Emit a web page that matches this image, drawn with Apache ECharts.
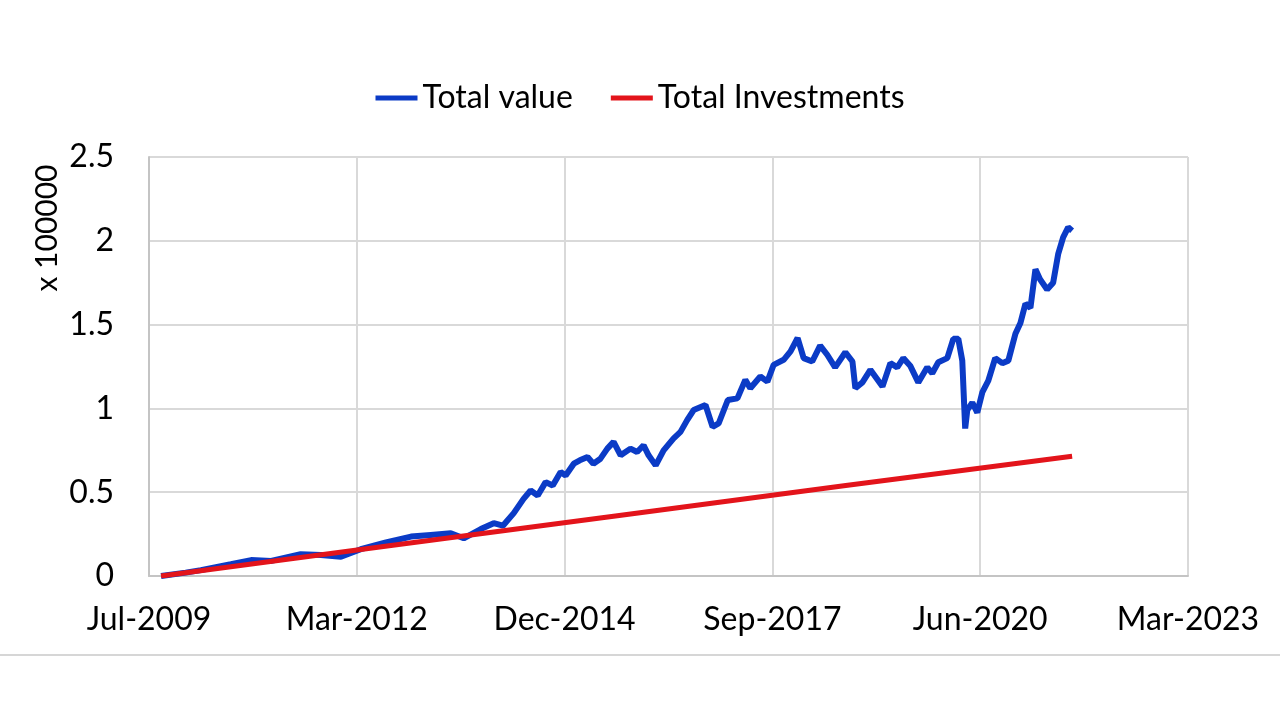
<!doctype html>
<html>
<head>
    <meta charset="utf-8">
    <title>Total value vs Total Investments</title>
    <style>
        html, body { margin: 0; padding: 0; background: #fff; }
        #main { width: 1280px; height: 720px; }
    </style>
</head>
<body>
    <div id="main"></div>
    <script src="https://cdn.jsdelivr.net/npm/echarts@6/dist/echarts.min.js"></script>
    <script>
        var chart = echarts.init(document.getElementById('main'));

        var seriesNames = ['Total value', 'Total Investments'];

        // values in units of 100000
        var valueDates = [
            '2009-09-03', '2009-12-30', '2010-03-13', '2010-08-04', '2010-11-09', '2011-02-13',
            '2011-07-05', '2011-10-10', '2012-01-14', '2012-04-18', '2012-08-17', '2012-12-15',
            '2013-03-20', '2013-06-24', '2013-08-25', '2013-11-15', '2014-01-16', '2014-03-01',
            '2014-04-22', '2014-06-08', '2014-07-12', '2014-08-15', '2014-09-22', '2014-10-26',
            '2014-12-03', '2014-12-27', '2015-02-04', '2015-03-05', '2015-04-11', '2015-05-09',
            '2015-06-12', '2015-07-15', '2015-08-14', '2015-09-17', '2015-11-03', '2015-12-05',
            '2016-01-05', '2016-01-29', '2016-03-03', '2016-04-10', '2016-05-27', '2016-06-30',
            '2016-08-01', '2016-09-01', '2016-10-28', '2016-12-01', '2016-12-30', '2017-02-12',
            '2017-03-30', '2017-05-07', '2017-05-31', '2017-07-18', '2017-08-21', '2017-09-20',
            '2017-11-07', '2017-12-10', '2018-01-13', '2018-02-11', '2018-03-24', '2018-05-01',
            '2018-06-04', '2018-07-12', '2018-08-30', '2018-10-03', '2018-10-17', '2018-11-20',
            '2018-12-28', '2019-02-24', '2019-04-03', '2019-05-06', '2019-06-04', '2019-07-07',
            '2019-08-15', '2019-09-27', '2019-10-21', '2019-11-19', '2020-01-01', '2020-01-30',
            '2020-02-23', '2020-03-13', '2020-03-27', '2020-04-06', '2020-04-30', '2020-05-24',
            '2020-06-17', '2020-07-16', '2020-08-18', '2020-09-21', '2020-10-20', '2020-11-23',
            '2020-12-17', '2021-01-10', '2021-02-03', '2021-02-27', '2021-03-21', '2021-04-24',
            '2021-05-23', '2021-06-16', '2021-07-10', '2021-08-03', '2021-08-22'
        ];
        var totalValue = [
            0, 0.02, 0.035, 0.07, 0.095, 0.09,
            0.13, 0.125, 0.115, 0.16, 0.2, 0.235,
            0.245, 0.255, 0.225, 0.28, 0.315, 0.3,
            0.375, 0.46, 0.51, 0.48, 0.56, 0.54,
            0.62, 0.6, 0.67, 0.69, 0.71, 0.67,
            0.7, 0.76, 0.8, 0.72, 0.76, 0.74,
            0.78, 0.72, 0.66, 0.75, 0.82, 0.86,
            0.93, 0.99, 1.02, 0.89, 0.91, 1.05,
            1.06, 1.17, 1.12, 1.19, 1.16, 1.26,
            1.29, 1.34, 1.42, 1.3, 1.28, 1.375,
            1.32, 1.245, 1.335, 1.28, 1.12, 1.155,
            1.23, 1.13, 1.27, 1.245, 1.3, 1.255,
            1.155, 1.245, 1.21, 1.275, 1.3, 1.415,
            1.415, 1.285, 0.88, 0.99, 1.035, 0.975,
            1.095, 1.165, 1.3, 1.27, 1.285, 1.445,
            1.51, 1.625, 1.6, 1.83, 1.77, 1.71,
            1.75, 1.92, 2.02, 2.08, 2.06
        ];

        var investDates = ['2009-09-03', '2012-09-01', '2015-09-01', '2018-09-01', '2021-08-22'];
        var totalInvestments = [0, 0.18, 0.36, 0.54, 0.715];

        var monthNames = ['Jan', 'Feb', 'Mar', 'Apr', 'May', 'Jun', 'Jul', 'Aug', 'Sep', 'Oct', 'Nov', 'Dec'];

        // x axis counts days from 7 Jul 2009, ticks every 997 days like the Excel date axis
        var ORIGIN = Date.UTC(2009, 6, 7);
        var DAY = 864e5;
        function toDays(s) {
            var p = s.split('-');
            return (Date.UTC(+p[0], +p[1] - 1, +p[2]) - ORIGIN) / DAY;
        }
        function pairs(dates, values) {
            return dates.map(function (d, i) { return [toDays(d), values[i]]; });
        }

        var font = 'Lato, "Open Sans", sans-serif';

        chart.setOption({
            animation: false,
            backgroundColor: '#fff',
            legend: {
                top: 77,
                left: 'center',
                icon: 'rect',
                itemWidth: 42,
                itemHeight: 5,
                itemGap: 38,
                textStyle: { fontFamily: font, fontSize: 32, color: '#000' },
                data: seriesNames
            },
            grid: { left: 149, right: 92, top: 157, bottom: 144 },
            xAxis: {
                type: 'value',
                min: 0,
                max: 4985,
                interval: 997,
                axisLine: { lineStyle: { color: '#c4c4c4', width: 2 } },
                axisTick: { show: false },
                splitLine: { show: true, lineStyle: { color: '#d9d9d9', width: 2 } },
                axisLabel: {
                    margin: 28,
                    fontFamily: font,
                    fontSize: 32,
                    color: '#000',
                    formatter: function (v) {
                        var d = new Date(ORIGIN + v * DAY);
                        return monthNames[d.getUTCMonth()] + '-' + d.getUTCFullYear();
                    }
                }
            },
            yAxis: {
                type: 'value',
                min: 0,
                max: 2.5,
                interval: 0.5,
                axisLine: { show: true, lineStyle: { color: '#c4c4c4', width: 2 } },
                axisTick: { show: false },
                splitLine: { lineStyle: { color: '#d9d9d9', width: 2 } },
                axisLabel: { margin: 35, fontFamily: font, fontSize: 32, color: '#000' }
            },
            graphic: [{
                type: 'text',
                x: 47,
                y: 228,
                rotation: Math.PI / 2,
                style: {
                    text: 'x 100000',
                    fontFamily: font,
                    fontSize: 30,
                    fill: '#000',
                    textAlign: 'center',
                    textVerticalAlign: 'middle'
                }
            }, {
                type: 'line',
                shape: { x1: 0, y1: 655, x2: 1280, y2: 655 },
                style: { stroke: '#d6d6d6', lineWidth: 2 }
            }],
            series: [{
                name: seriesNames[0],
                type: 'line',
                showSymbol: false,
                lineStyle: { color: '#0b3bc6', width: 6 },
                itemStyle: { color: '#0b3bc6' },
                data: pairs(valueDates, totalValue)
            }, {
                name: seriesNames[1],
                type: 'line',
                showSymbol: false,
                lineStyle: { color: '#e3141b', width: 5 },
                itemStyle: { color: '#e3141b' },
                data: pairs(investDates, totalInvestments)
            }]
        });

        window.addEventListener('resize', function () {
            chart.resize();
        });
    </script>
</body>
</html>
